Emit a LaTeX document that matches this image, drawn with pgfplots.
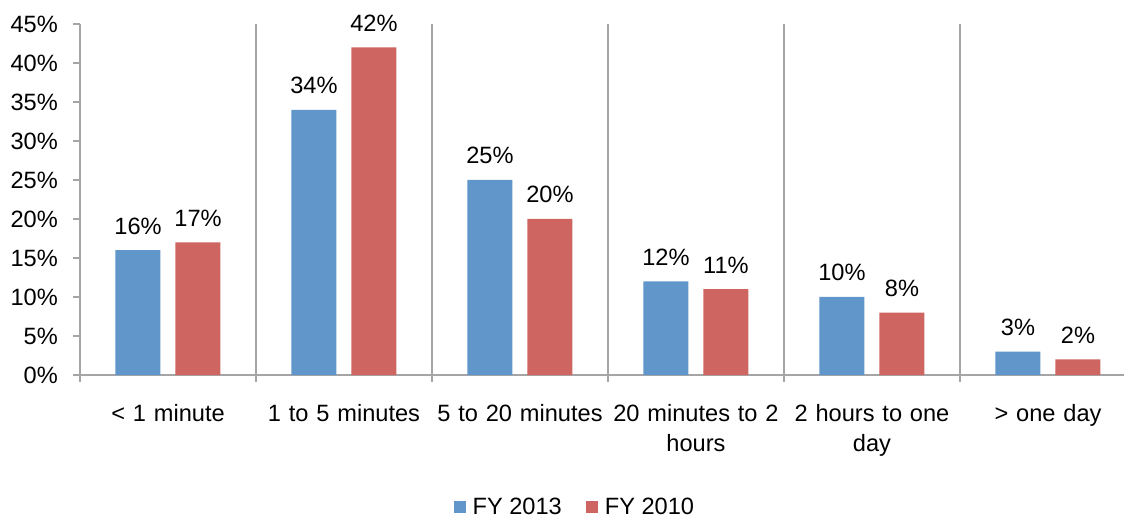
\documentclass[border=0pt]{standalone}
\usepackage{fontspec}
\setmainfont{Liberation Sans}
\usepackage{pgfplots}
\pgfplotsset{compat=1.18}

\definecolor{fyblue}{RGB}{96,150,202}
\definecolor{fyred}{RGB}{206,101,96}
\definecolor{axisgray}{RGB}{165,165,165}

\newcommand{\chartfont}{\fontsize{23.6}{30}\selectfont}

\begin{document}
\begin{tikzpicture}
\begin{axis}[
  at={(0pt,0pt)}, anchor=south west,
  scale only axis,
  width=1044pt, height=351pt,
  ybar=15pt, bar width=45pt,
  xmin=-0.5, xmax=5.432,
  ymin=0, ymax=45,
  axis x line*=bottom, axis y line*=left,
  axis line style={draw=axisgray, line width=2.2pt, -},
  every tick/.style={draw=axisgray, line width=2pt},
  ytick={0,5,...,45},
  tick align=outside,
  major tick length=7pt,
  yticklabel={\pgfmathprintnumber{\tick}\%},
  /pgf/number format/assume math mode=true,
  yticklabel style={font=\chartfont, anchor=east, inner sep=0pt, xshift=-15pt},
  xtick={0,1,2,3,4,5},
  x tick style={draw=none},
  xticklabels={{< 1 minute},{1 to 5 minutes},{5 to 20 minutes},{20 minutes to 2\\hours},{2 hours to one\\day},{> one day}},
  xticklabel style={font=\chartfont, text width=176pt, align=center, anchor=north, inner sep=0pt, yshift=-22pt},
  extra x ticks={-0.5,0.5,1.5,2.5,3.5,4.5},
  extra x tick labels={},
  extra x tick style={grid=major, major grid style={draw=axisgray, line width=2pt}, x tick style={draw=axisgray, line width=2pt}},
  nodes near coords={\pgfmathprintnumber{\pgfplotspointmeta}\%},
  every node near coord/.append style={font=\chartfont, anchor=base, inner sep=0pt, yshift=16pt},
  legend style={draw=none, fill=none, at={(0.474,-0.376)}, anchor=center,
    legend columns=-1, font=\chartfont,
    /tikz/every odd column/.append style={column sep=5pt},
    /tikz/every even column/.append style={column sep=22pt}},
  legend image code/.code={\fill[#1] (0pt,-6pt) rectangle (12pt,6pt);},
  clip=false,
]
\addplot[fill=fyblue, draw=none] coordinates {(0,16) (1,34) (2,25) (3,12) (4,10) (5,3)};
\addplot[fill=fyred, draw=none] coordinates {(0,17) (1,42) (2,20) (3,11) (4,8) (5,2)};
\legend{FY 2013, FY 2010}
\end{axis}
\pgfresetboundingbox
\path (-80pt,-141pt) rectangle (1044pt,375pt);
\end{tikzpicture}
\end{document}
